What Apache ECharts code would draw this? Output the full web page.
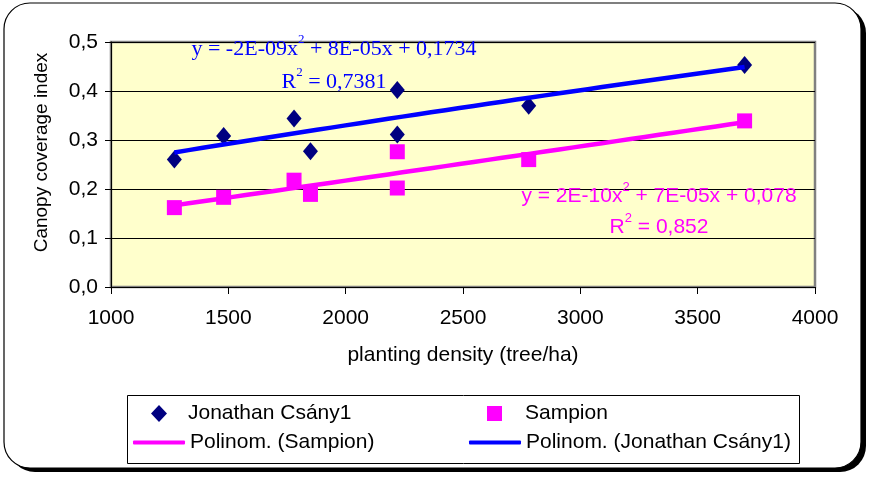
<!DOCTYPE html>
<html>
<head>
<meta charset="utf-8">
<script src="https://cdn.jsdelivr.net/npm/echarts@6/dist/echarts.min.js"></script>
<style>
  html, body { margin: 0; padding: 0; background: #ffffff; }
  #chart { width: 870px; height: 477px; }
</style>
</head>
<body>
<div id="chart"></div>
<script>
// Planting density (tree/ha) of each orchard plot
const densities = [1270, 1480, 1780, 1850, 2220, 2220, 2780, 3700];
// Canopy coverage index per variety
const jonathan = [0.260, 0.308, 0.344, 0.277, 0.402, 0.311, 0.370, 0.453];
const sampion  = [0.162, 0.183, 0.218, 0.189, 0.276, 0.202, 0.260, 0.339];

const nameJon = 'Jonathan Csány1';
const nameSam = 'Sampion';
const nameTrendSam = 'Polinom. (Sampion)';
const nameTrendJon = 'Polinom. (Jonathan Csány1)';

const xTicks = { min: 1000, max: 4000, step: 500 };
const yTicks = { min: 0, max: 0.5, step: 0.1 };

// least-squares fit of y = a*x^2 + b*x + c
function polyFit2(xs, ys) {
  const s = [0, 0, 0, 0, 0], t = [0, 0, 0];
  xs.forEach((x, i) => {
    let p = 1;
    for (let k = 0; k < 5; k++) { s[k] += p; if (k < 3) t[k] += p * ys[i]; p *= x; }
  });
  const m = [
    [s[0], s[1], s[2], t[0]],
    [s[1], s[2], s[3], t[1]],
    [s[2], s[3], s[4], t[2]]
  ];
  for (let i = 0; i < 3; i++) {
    for (let j = i + 1; j < 3; j++) {
      const f = m[j][i] / m[i][i];
      for (let k = i; k < 4; k++) m[j][k] -= f * m[i][k];
    }
  }
  const r = [0, 0, 0];
  for (let i = 2; i >= 0; i--) {
    let v = m[i][3];
    for (let k = i + 1; k < 3; k++) v -= m[i][k] * r[k];
    r[i] = v / m[i][i];
  }
  return { c: r[0], b: r[1], a: r[2] };
}

function trendLine(xs, ys) {
  const f = polyFit2(xs, ys);
  const x0 = Math.min(...xs), x1 = Math.max(...xs);
  const pts = [];
  const n = 40;
  for (let i = 0; i <= n; i++) {
    const x = x0 + (x1 - x0) * i / n;
    pts.push([x, f.a * x * x + f.b * x + f.c]);
  }
  return pts;
}

const sans = "'Liberation Sans', Arial, sans-serif";
const serif = "'Liberation Serif', 'Times New Roman', serif";

const chart = echarts.init(document.getElementById('chart'), null, { renderer: 'canvas' });

const legendBase = {
  orient: 'horizontal',
  padding: 0,
  selectedMode: false,
  textStyle: { fontFamily: sans, fontSize: 21, color: '#000000' }
};

function equation(x, y, lines, family, size, color, lh) {
  return {
    type: 'text', z: 50,
    style: {
      x: x, y: y, align: 'center', verticalAlign: 'top',
      text: lines,
      rich: {
        m: { fontFamily: family, fontSize: size, fill: color, lineHeight: lh },
        s: { fontFamily: family, fontSize: Math.round(size * 0.6), fill: color, verticalAlign: 'top', lineHeight: Math.round(size * 0.75) }
      }
    }
  };
}

chart.setOption({
  backgroundColor: 'transparent',
  animation: false,
  graphic: [
    // framed panel with drop shadow
    { type: 'rect', z: -10, shape: { x: 9, y: 7, width: 857, height: 465, r: 26 }, style: { fill: '#000000' } },
    { type: 'rect', z: -9, shape: { x: 4, y: 3, width: 857, height: 465, r: 26 }, style: { fill: '#ffffff', stroke: '#000000', lineWidth: 1.2 } },
    // legend frame
    { type: 'rect', z: -5, shape: { x: 127.5, y: 395.5, width: 672, height: 68 }, style: { fill: '#ffffff', stroke: '#000000', lineWidth: 1 } },
    // trend equations
    equation(334, 33, '{m|y = -2E-09x}{s|2}{m| + 8E-05x + 0,1734}\n{m|R}{s|2}{m| = 0,7381}', serif, 22, '#0000FF', 33),
    equation(659, 181, '{m|y = 2E-10x}{s|2}{m| + 7E-05x + 0,078}\n{m|R}{s|2}{m| = 0,852}', sans, 21, '#FF00FF', 31)
  ],
  grid: {
    left: 111, right: 55, top: 42, bottom: 190,
    show: true, backgroundColor: '#FFFFCC', borderColor: '#808080', borderWidth: 2.5
  },
  xAxis: {
    type: 'value', min: xTicks.min, max: xTicks.max, interval: xTicks.step,
    name: 'planting density (tree/ha)', nameLocation: 'middle', nameGap: 58,
    nameTextStyle: { fontFamily: sans, fontSize: 21, color: '#000000' },
    axisLine: { show: true, onZero: false, lineStyle: { color: '#000000', width: 1 } },
    axisTick: { show: true, inside: false, length: 7, lineStyle: { color: '#000000' } },
    axisLabel: { margin: 21, fontFamily: sans, fontSize: 21, color: '#000000', formatter: v => String(v) },
    splitLine: { show: false }
  },
  yAxis: {
    type: 'value', min: yTicks.min, max: yTicks.max, interval: yTicks.step,
    name: 'Canopy coverage index', nameLocation: 'middle', nameGap: 60, nameRotate: 90,
    nameTextStyle: { fontFamily: sans, fontSize: 19, color: '#000000', padding: [0, 0, 0, 24] },
    axisLine: { show: true, lineStyle: { color: '#000000', width: 1 } },
    axisTick: { show: true, inside: false, length: 6, lineStyle: { color: '#000000' } },
    axisLabel: {
      margin: 13, fontFamily: sans, fontSize: 21, color: '#000000',
      formatter: v => v.toFixed(1).replace('.', ',')
    },
    splitLine: { show: true, lineStyle: { color: '#000000', width: 1 } }
  },
  legend: [
    Object.assign({}, legendBase, {
      left: 151, top: 403, itemWidth: 16, itemHeight: 17,
      textStyle: Object.assign({}, legendBase.textStyle, { padding: [0, 0, 0, 16] }),
      data: [{ name: nameJon, icon: 'diamond' }]
    }),
    Object.assign({}, legendBase, {
      left: 487, top: 403, itemWidth: 15, itemHeight: 15,
      textStyle: Object.assign({}, legendBase.textStyle, { padding: [0, 0, 0, 18] }),
      data: [{ name: nameSam, icon: 'rect' }]
    }),
    Object.assign({}, legendBase, {
      left: 133, top: 432, itemWidth: 52, itemHeight: 4,
      data: [{ name: nameTrendSam, icon: 'roundRect' }]
    }),
    Object.assign({}, legendBase, {
      left: 469, top: 432, itemWidth: 52, itemHeight: 4,
      data: [{ name: nameTrendJon, icon: 'roundRect' }]
    })
  ],
  series: [
    {
      name: nameJon, type: 'scatter', z: 3,
      symbol: 'diamond', symbolSize: [15, 18],
      itemStyle: { color: '#000080', opacity: 1 },
      data: densities.map((d, i) => [d, jonathan[i]])
    },
    {
      name: nameSam, type: 'scatter', z: 3,
      symbol: 'rect', symbolSize: [15, 15],
      itemStyle: { color: '#FF00FF', opacity: 1 },
      data: densities.map((d, i) => [d, sampion[i]])
    },
    {
      name: nameTrendSam, type: 'line', z: 4,
      symbol: 'none', smooth: false,
      lineStyle: { color: '#FF00FF', width: 4.5 },
      itemStyle: { color: '#FF00FF' },
      data: trendLine(densities, sampion)
    },
    {
      name: nameTrendJon, type: 'line', z: 4,
      symbol: 'none', smooth: false,
      lineStyle: { color: '#0000FF', width: 4.5 },
      itemStyle: { color: '#0000FF' },
      data: trendLine(densities, jonathan)
    }
  ]
});
</script>
</body>
</html>
